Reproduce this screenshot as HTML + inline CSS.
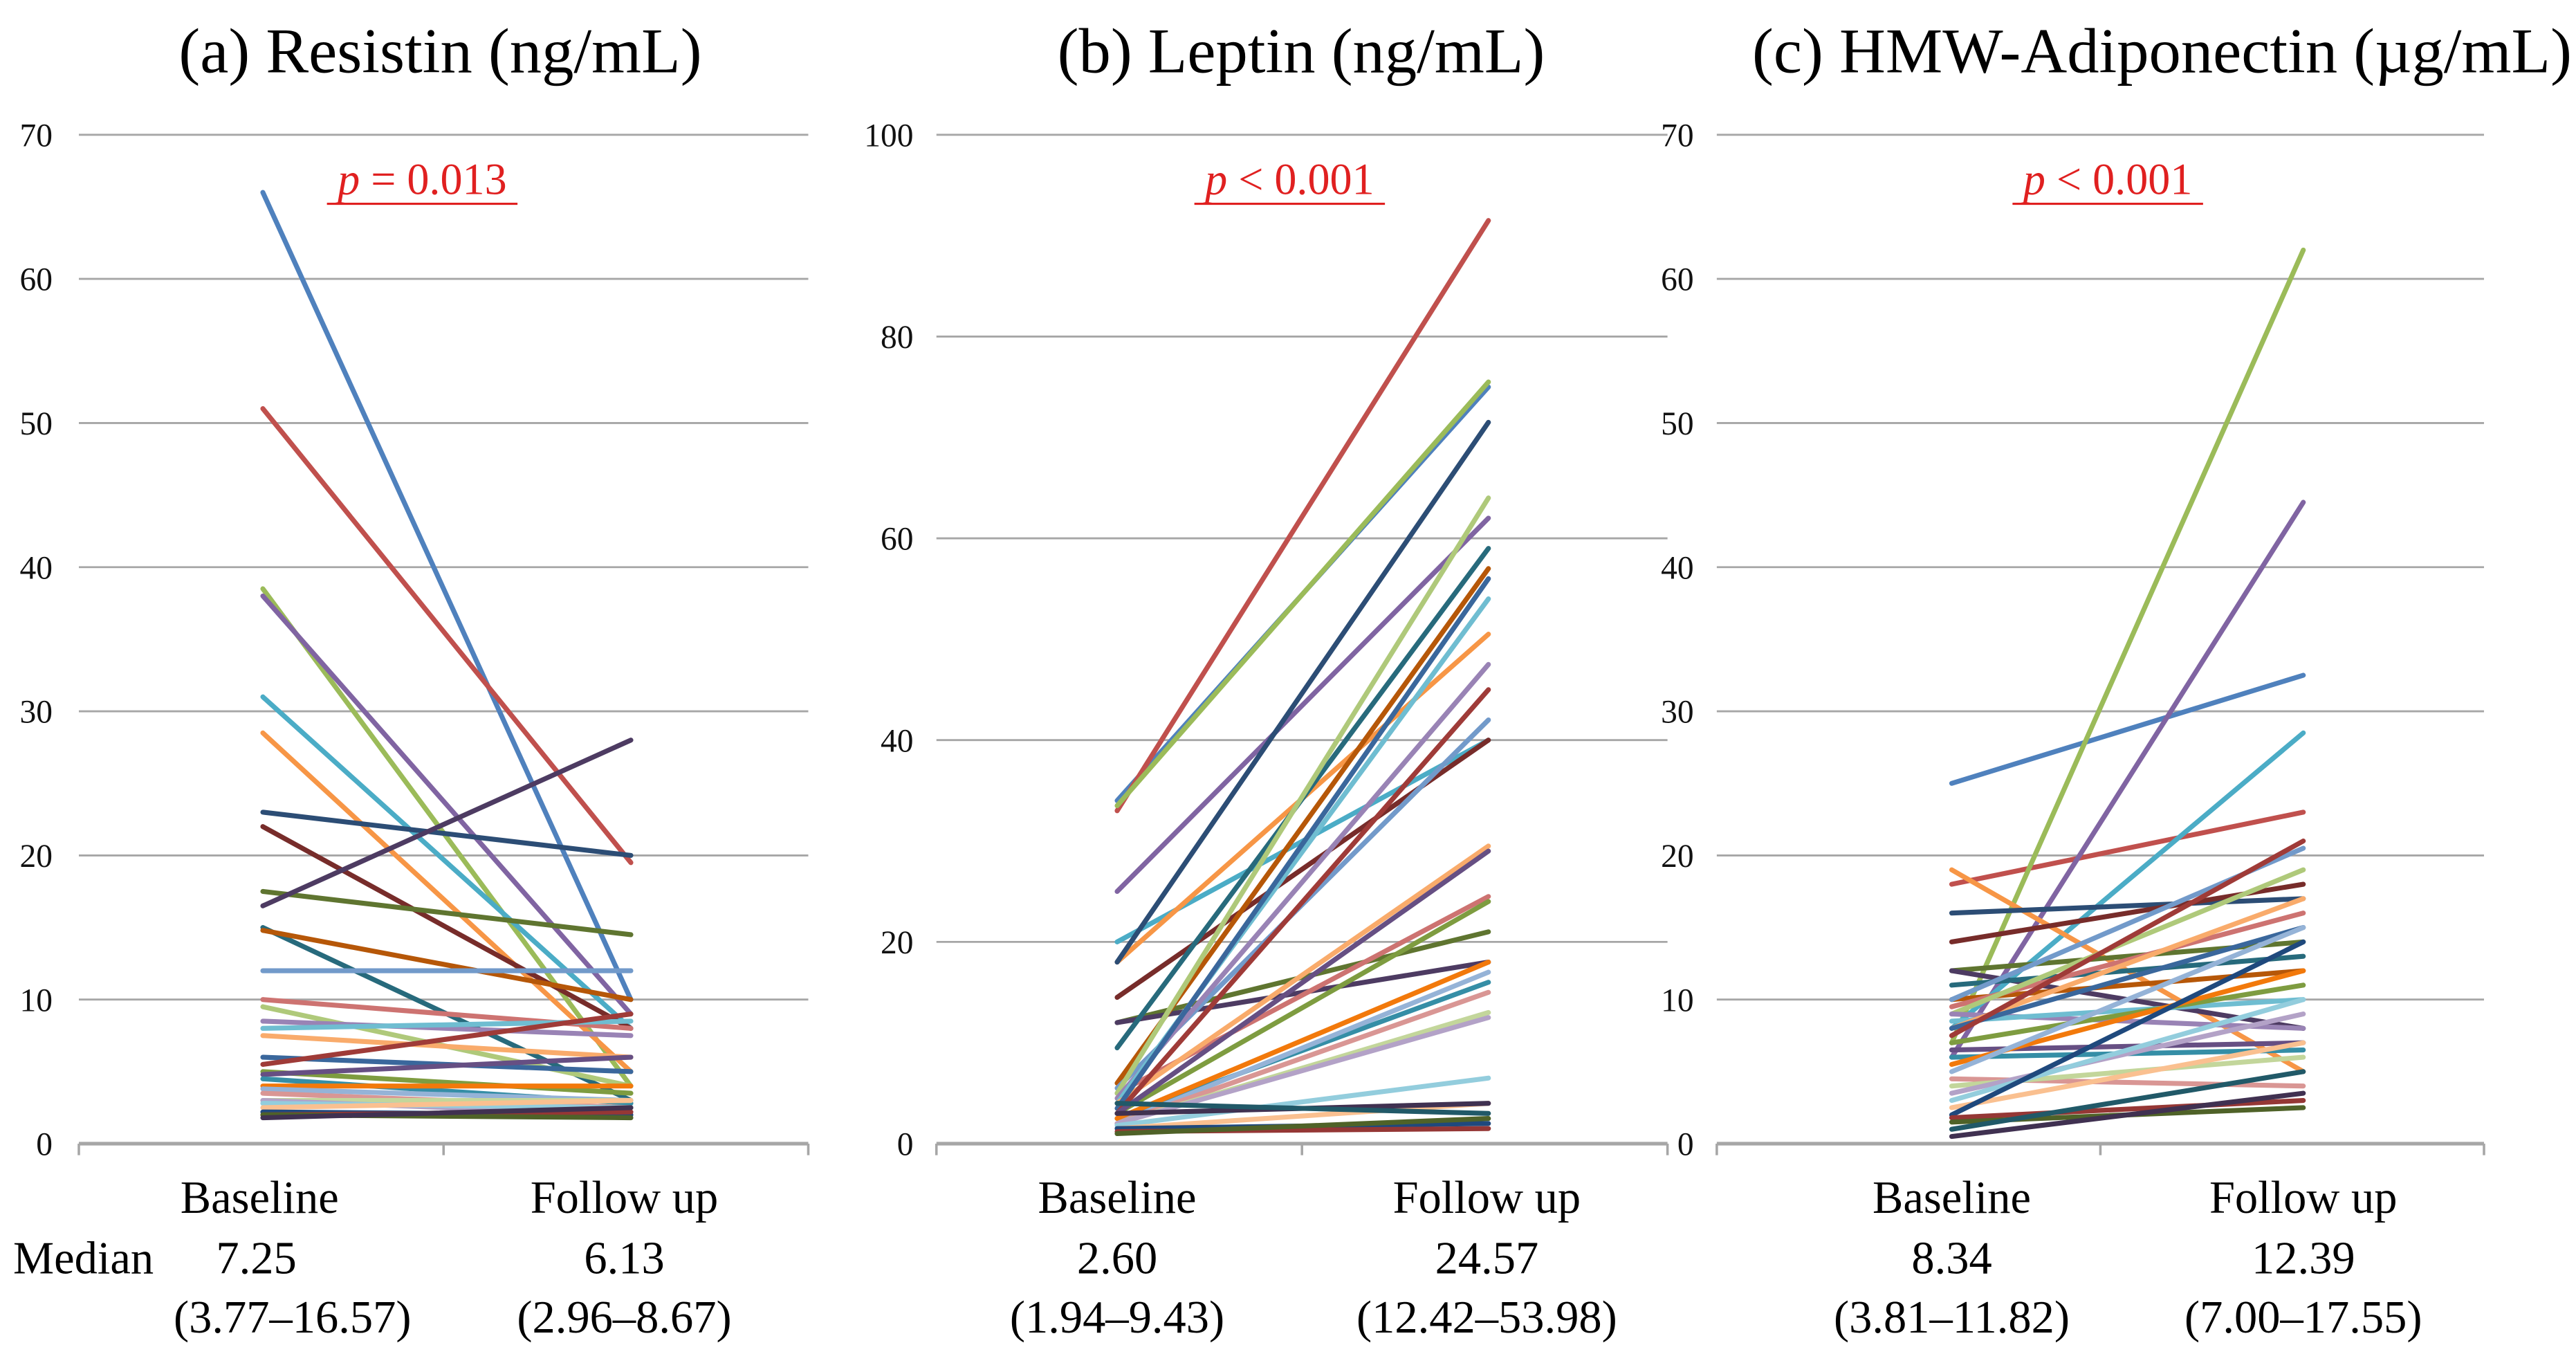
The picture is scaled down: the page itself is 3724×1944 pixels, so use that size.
<!DOCTYPE html>
<html><head><meta charset="utf-8">
<style>
html,body{margin:0;padding:0;background:#fff;}
svg{display:block;}
text{font-family:"Liberation Serif",serif;}
</style></head>
<body>
<svg id="chart" width="3724" height="1944" viewBox="0 0 1568 818.5" xmlns="http://www.w3.org/2000/svg"></svg>
<script>
const colorsList=["#4f81bd","#c0504d","#9bbb59","#8064a2","#4bacc6","#f79646","#2c4d75","#772c2a","#5f7530","#4d3b62","#276a7c","#b65708","#729aca","#cd7371","#afc97a","#9983b5","#6fbdd1","#f9ab6b","#3a679c","#9f3b38","#7e9c40","#664f83","#358ea6","#f2790b","#95b3d7","#d99694","#c3d69b","#b3a2c7","#93cddd","#fac090","#1f497d","#953735","#4f6228","#403151","#215968"];
const titles=["(a) Resistin (ng/mL)","(b) Leptin (ng/mL)","(c) HMW-Adiponectin (µg/mL)"];
const pLabels=["= 0.013","< 0.001","< 0.001"];
const yMaxes=[70,100,70];
const yStepsA=[0,10,20,30,40,50,60,70];
const yStepsB=[0,20,40,60,80,100];
const yStepsC=[0,10,20,30,40,50,60,70];
const mediansBase=["7.25","2.60","8.34"];
const mediansFollow=["6.13","24.57","12.39"];
const rangesBase=["(3.77–16.57)","(1.94–9.43)","(3.81–11.82)"];
const rangesFollow=["(2.96–8.67)","(12.42–53.98)","(7.00–17.55)"];
const baseA=[66,51,38.5,38,31,28.5,23,22,17.5,16.5,15,14.8,12,10,9.5,8.5,8,7.5,6,5.5,5,4.8,4.5,4,3.8,3.5,3,3,2.8,2.5,2.2,2,2,1.8];
const followA=[10,19.5,4,9,8,5,20,8,14.5,28,3,10,12,8,4,7.5,8.5,6,5,9,3.5,6,2.8,4,3,2.5,3,2,2.5,3,2,2.2,1.8,2.5];
const baseB=[34,33,33.5,25,20,18,18,14.5,12,12,9.5,6,5.5,5,5,4.5,4,4,3.5,3,3,3,2.5,2.5,2,2,2,2,1.8,1.5,1.5,1.2,1,3,4];
const followB=[75,91.5,75.5,62,40,50.5,71.5,40,21,18,59,57,42,24.5,64,47.5,54,29.5,56,45,24,29,16,18,17,15,13,12.5,6.5,4,2,1.5,2.5,4,3];
const baseC=[25,18,7,6,8,19,16,14,12,12,11,10,10,9.5,9,9,8.5,8,8,7.5,7,6.5,6,5.5,5,4.5,4,3.5,3,2.5,2,1.8,1.5,0.5,1];
const followC=[32.5,23,62,44.5,28.5,5,17,18,14,8,13,12,20.5,16,19,8,10,17,15,21,11,7,6.5,12,15,4,6,9,10,7,14,3,2.5,3.5,5];
const panels=[
 {x0:48,x1:492,bx:160,fx:384,ticks:yStepsA,base:baseA,follow:followA,labelX:32,medX:[100,158,380],tcx:268,pcx:257},
 {x0:570,x1:1015,bx:680,fx:906,ticks:yStepsB,base:baseB,follow:followB,labelX:556,medX:[0,680,905],tcx:792,pcx:785},
 {x0:1045,x1:1512,bx:1188,fx:1402,ticks:yStepsC,base:baseC,follow:followC,labelX:1031,medX:[0,1188,1402],tcx:1316,pcx:1283}
];
const y0=696,yTop=82;
const NS="http://www.w3.org/2000/svg";
const svg=document.getElementById('chart');
function el(tag,attrs,parent){const e=document.createElementNS(NS,tag);for(const k in attrs)e.setAttribute(k,attrs[k]);(parent||svg).appendChild(e);return e;}
panels.forEach((p,i)=>{
 const g=el('g',{});
 
 
 const ymax=yMaxes[i];
 const sy=v=>y0-(v/ymax)*(y0-yTop);
 const t=el('text',{x:p.tcx,y:44,'font-size':39,'text-anchor':'middle',fill:'#000'},g);
 t.textContent=titles[i];
 
 
 p.ticks.forEach(v=>{
  const gl=el('line',{x1:p.x0,x2:p.x1,y1:sy(v),y2:sy(v),stroke:'#a6a6a6','stroke-width':v==0?2.2:1.2},g);
  
  
  const tl=el('text',{x:p.labelX,y:sy(v)+7,'font-size':20,'text-anchor':'end',fill:'#111'},g);
  tl.textContent=v;
  
  
 });
 [p.x0,(p.x0+p.x1)/2,p.x1].forEach(x=>{el('line',{x1:x,x2:x,y1:y0,y2:y0+7,stroke:'#a6a6a6','stroke-width':1.5},g);});
 const px=p.pcx;
 const pt=el('text',{x:px,y:118,'font-size':27,'text-anchor':'middle',fill:'#e02020'},g);
 pt.innerHTML='<tspan font-style="italic">p</tspan> '+pLabels[i];
 
 
 el('line',{x1:px-58,x2:px+58,y1:124,y2:124,stroke:'#e02020','stroke-width':1.3},g);
 p.base.forEach((b,j)=>{
  const ln=el('line',{x1:p.bx,y1:sy(b),x2:p.fx,y2:sy(p.follow[j]),stroke:colorsList[j%colorsList.length],'stroke-width':3,'stroke-linecap':'round'},g);
  
  
 });
 const fs=28;
 const lb=el('text',{x:p.medX[1],y:738,'font-size':fs,'text-anchor':'middle'},g);lb.textContent='Baseline';
 
 const lf=el('text',{x:p.medX[2],y:738,'font-size':fs,'text-anchor':'middle'},g);lf.textContent='Follow up';
 
 const mb=el('text',{x:p.medX[1]-(i==0?2:0),y:775,'font-size':fs,'text-anchor':'middle'},g);mb.textContent=mediansBase[i];
 
 const mf=el('text',{x:p.medX[2],y:775,'font-size':fs,'text-anchor':'middle'},g);mf.textContent=mediansFollow[i];
 
 const rb=el('text',{x:p.medX[1]+(i==0?20:0),y:811,'font-size':fs,'text-anchor':'middle'},g);rb.textContent=rangesBase[i];
 
 const rf=el('text',{x:p.medX[2],y:811,'font-size':fs,'text-anchor':'middle'},g);rf.textContent=rangesFollow[i];
 
});
const md=el('text',{x:8,y:775,'font-size':28});md.textContent='Median';


</script>
</body></html>
